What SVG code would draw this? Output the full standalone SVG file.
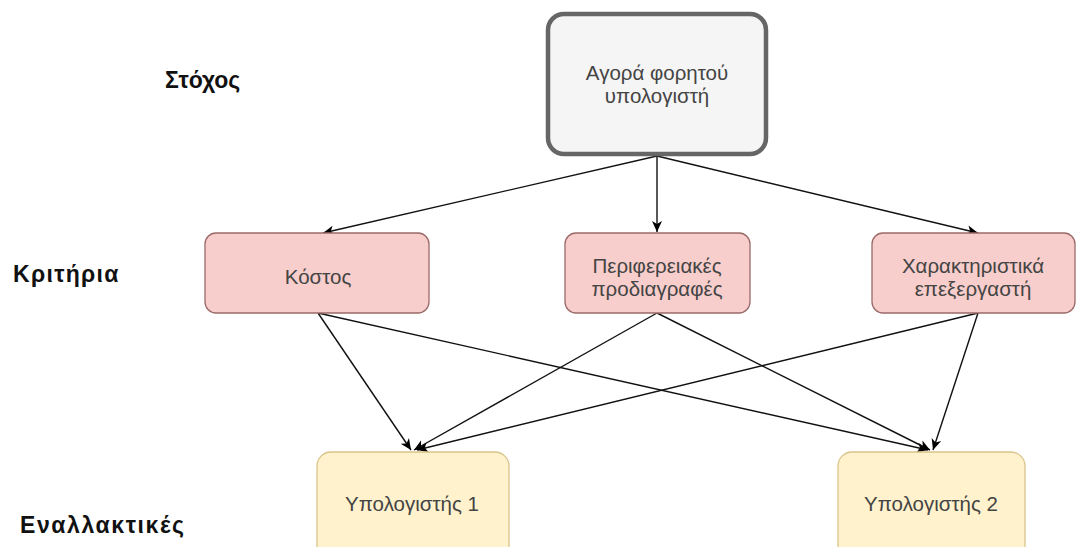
<svg xmlns="http://www.w3.org/2000/svg" width="1088" height="547" viewBox="0 0 1088 547">
<defs>
<marker id="arr" markerWidth="12" markerHeight="12" viewBox="0 0 12 12" refX="11" refY="6" orient="auto" markerUnits="userSpaceOnUse">
<path d="M0,1 L11,6 L0,11 L3,6 Z" fill="#000"/>
</marker>
<style>
.lbl{font-family:"Liberation Sans",Arial,sans-serif;font-weight:bold;fill:#111;}
.t{font-family:"Liberation Sans",Arial,sans-serif;font-size:20.5px;fill:#444;text-anchor:middle;}
.goal{fill:#f5f5f5;stroke:#666;stroke-width:4.5;}
.crit{fill:#f8cecc;stroke:#9a6a68;stroke-width:1.3;}
.alt{fill:#fff2cc;stroke:#d9c48a;stroke-width:1.3;}
.c{stroke:#111;stroke-width:1.4;fill:none;marker-end:url(#arr);}
</style>
</defs>
<rect width="1088" height="547" fill="#fff"/>
<text class="lbl" x="165" y="88" font-size="23">Στόχος</text>
<text class="lbl" x="13" y="282" font-size="23" letter-spacing="1.3">Κριτήρια</text>
<text class="lbl" x="20" y="533" font-size="23" letter-spacing="1.6">Εναλλακτικές</text>
<g id="connectors">
<line class="c" x1="657" y1="156" x2="323" y2="233"/>
<line class="c" x1="657" y1="156" x2="657" y2="232"/>
<line class="c" x1="657" y1="156" x2="978" y2="233"/>
<line class="c" x1="318" y1="313" x2="411" y2="450"/>
<line class="c" x1="318" y1="313" x2="928" y2="450"/>
<line class="c" x1="657" y1="313" x2="414" y2="450"/>
<line class="c" x1="657" y1="313" x2="930" y2="450"/>
<line class="c" x1="978" y1="313" x2="417" y2="450"/>
<line class="c" x1="978" y1="313" x2="933" y2="450"/>
</g>
<g id="goal">
<rect class="goal" x="548" y="14" width="218" height="140" rx="16"/>
<text class="t" x="657" y="80">Αγορά φορητού</text>
<text class="t" x="657" y="103">υπολογιστή</text>
</g>
<g id="cost">
<rect class="crit" x="205" y="233" width="224" height="80" rx="11"/>
<text class="t" x="318" y="284">Κόστος</text>
</g>
<g id="peripheral">
<rect class="crit" x="565" y="233" width="185" height="80" rx="11"/>
<text class="t" x="657" y="273">Περιφερειακές</text>
<text class="t" x="657" y="296">προδιαγραφές</text>
</g>
<g id="processor">
<rect class="crit" x="872" y="233" width="203" height="80" rx="11"/>
<text class="t" x="973" y="273">Χαρακτηριστικά</text>
<text class="t" x="973" y="296">επεξεργαστή</text>
</g>
<g id="pc1">
<rect class="alt" x="317" y="452" width="192" height="110" rx="14"/>
<text class="t" x="412" y="511">Υπολογιστής 1</text>
</g>
<g id="pc2">
<rect class="alt" x="838" y="452" width="187" height="110" rx="14"/>
<text class="t" x="931" y="511">Υπολογιστής 2</text>
</g>
</svg>
